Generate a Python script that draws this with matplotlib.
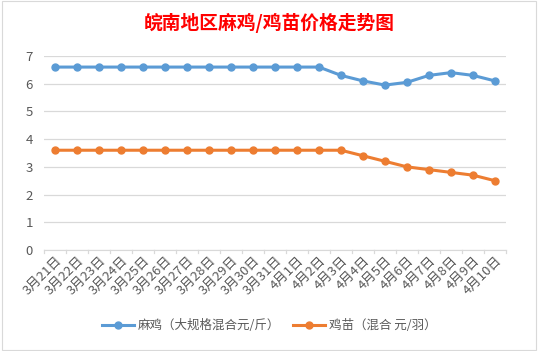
import matplotlib
matplotlib.use("Agg")
import matplotlib.pyplot as plt

plt.rcParams['font.family'] = ['Noto Sans CJK SC', 'DejaVu Sans']

# ---------- 数据 ----------
dates = ["3月21日", "3月22日", "3月23日", "3月24日", "3月25日", "3月26日", "3月27日",
         "3月28日", "3月29日", "3月30日", "3月31日", "4月1日", "4月2日", "4月3日",
         "4月4日", "4月5日", "4月6日", "4月7日", "4月8日", "4月9日", "4月10日"]
maji = [6.6, 6.6, 6.6, 6.6, 6.6, 6.6, 6.6, 6.6, 6.6, 6.6, 6.6, 6.6, 6.6,
        6.3, 6.1, 5.95, 6.05, 6.3, 6.4, 6.3, 6.1]
jimiao = [3.6, 3.6, 3.6, 3.6, 3.6, 3.6, 3.6, 3.6, 3.6, 3.6, 3.6, 3.6, 3.6, 3.6,
          3.4, 3.2, 3.0, 2.9, 2.8, 2.7, 2.5]
yticks = [0, 1, 2, 3, 4, 5, 6, 7]

blue = "#5B9BD5"
orange = "#ED7D31"
gray = "#595959"

fig = plt.figure(figsize=(5.38, 3.51), dpi=100)
ax = fig.add_axes([0.0818, 0.2877, 0.8587, 0.5528])

x = list(range(len(dates)))
ax.plot(x, maji, color=blue, lw=2.2, marker="o", ms=5,
        label="麻鸡（大规格混合元/斤）")
ax.plot(x, jimiao, color=orange, lw=2.2, marker="o", ms=5,
        label="鸡苗（混合 元/羽）")

ax.set_xlim(-0.5, len(dates) - 0.5)
ax.set_ylim(0, 7)
ax.set_yticks(yticks)
ax.yaxis.grid(True, color="#D9D9D9", lw=0.9)
ax.set_axisbelow(True)
for s in ["top", "right", "left"]:
    ax.spines[s].set_visible(False)
ax.spines["bottom"].set_color("#D9D9D9")

ax.set_xticks(x)
ax.set_xticklabels(dates, rotation=45, ha="right", va="top",
                   rotation_mode="anchor", fontsize=9.5, color=gray)
ax.tick_params(axis="x", length=0, pad=3)
ax.tick_params(axis="y", length=0, labelsize=9.5, labelcolor=gray, pad=8)

# 类目分隔刻度
for xi in range(len(dates) + 1):
    ax.plot([xi - 0.5, xi - 0.5], [0, -0.12], color="#D9D9D9", lw=0.9,
            clip_on=False)

fig.text(0.5, 0.935, "皖南地区麻鸡/鸡苗价格走势图", ha="center", va="center",
         fontsize=13.5, fontweight="bold", color="red")

fig.legend(loc="center", bbox_to_anchor=(0.5, 0.073), ncol=2, frameon=False,
           fontsize=9, labelcolor=gray, handlelength=2.6, columnspacing=1.0,
           handletextpad=0.3)

# 外框
fig.patches.append(plt.Rectangle((0.003, 0.003), 0.994, 0.994,
                                 transform=fig.transFigure, fill=False,
                                 edgecolor="#D9D9D9", lw=0.8))

fig.savefig("out.png", dpi=100)
